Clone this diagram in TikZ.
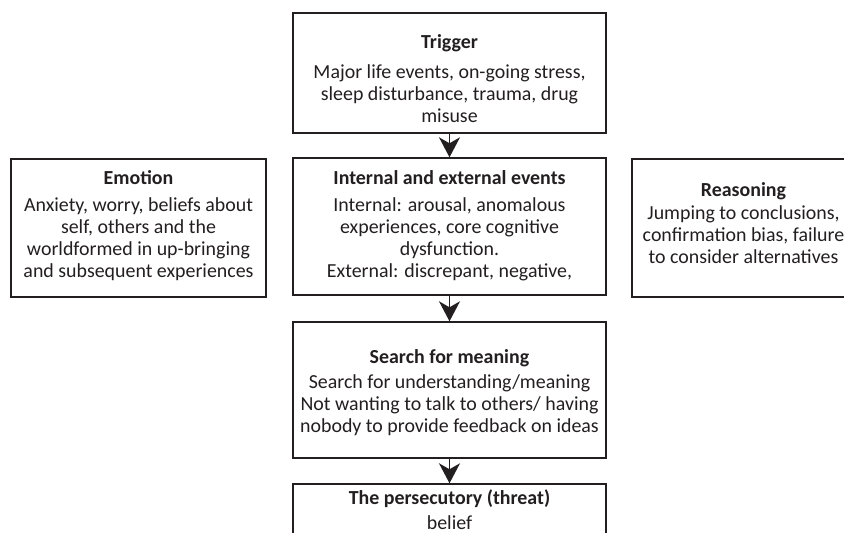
\documentclass[tikz,border=0pt]{standalone}
\usepackage{fontspec}
\setmainfont{Carlito}
\usetikzlibrary{arrows.meta}
\definecolor{ink}{HTML}{231F20}
\begin{document}
\begin{tikzpicture}[x=1pt,y=-1pt,
  box/.style={draw=ink, line width=1.4pt, inner sep=0pt, fill=white},
  txt/.style={font=\fontsize{19.9}{22}\selectfont, align=center, text=ink, inner sep=0pt},
  arr/.style={draw=ink, line width=1.8pt, -{Stealth[length=20pt,width=21pt,inset=6pt]}}]
\useasboundingbox (0,0) rectangle (844,533);
\clip (0,0) rectangle (844,533);
\fill[white] (0,0) rectangle (844,533);
% boxes
\node[box, minimum width=313pt, minimum height=120pt] (trigger) at (449.5,73) {};
\node[box, minimum width=255pt, minimum height=138pt] (emotion) at (138.5,228) {};
\node[box, minimum width=313pt, minimum height=137pt] (events) at (449.5,226.5) {};
\node[box, minimum width=223pt, minimum height=138pt] (reasoning) at (743.5,228) {};
\node[box, minimum width=313pt, minimum height=136pt] (search) at (449.5,390) {};
\node[box, minimum width=313pt, minimum height=90pt] (threat) at (449.5,529) {};
% texts (base anchor = baseline of last line)
\node[txt, anchor=base] (triggertext) at (449.5,122) {\textbf{Trigger}\\[8pt]Major life events, on-going stress,\\sleep disturbance, trauma, drug\\misuse};
\node[txt, anchor=base] (emotiontext) at (138.5,277) {\textbf{Emotion}\\[5pt]Anxiety, worry, beliefs about\\self, others and the\\worldformed in up-bringing\\and subsequent experiences};
\node[txt, anchor=base] (eventstext) at (449.5,277) {\textbf{Internal and external events}\\[5pt]Internal: arousal, anomalous\\experiences, core cognitive\\dysfunction.\\External: discrepant, negative,};
\node[txt, anchor=base] (reasoningtext) at (743.5,263) {\textbf{Reasoning}\\[1pt]Jumping to conclusions,\\confirmation bias, failure\\to consider alternatives};
\node[txt, anchor=base] (searchtext) at (449.5,432) {\textbf{Search for meaning}\\[3pt]Search for understanding/meaning\\Not wanting to talk to others/ having\\nobody to provide feedback on ideas};
\node[txt, anchor=base] (threattext) at (449.5,529) {\textbf{The persecutory (threat)}\\[3pt]belief};
% arrows
\draw[arr] (trigger.south) -- (events.north);
\draw[arr] (events.south) -- (search.north);
\draw[arr] (search.south) -- (threat.north);
\end{tikzpicture}
\end{document}
